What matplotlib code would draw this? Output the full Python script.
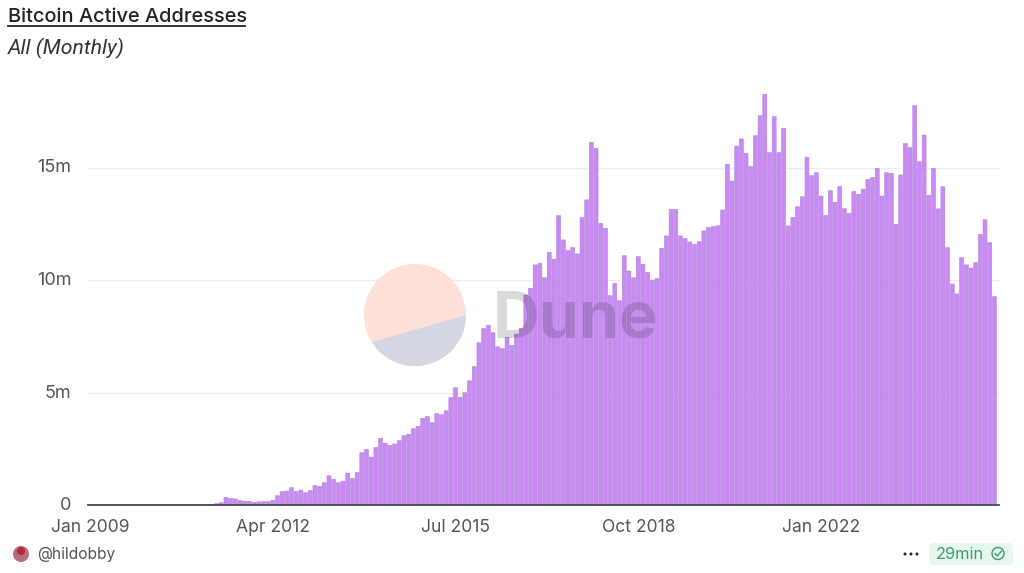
import matplotlib
matplotlib.use("Agg")
import matplotlib.pyplot as plt
from matplotlib.patches import Circle, Polygon, FancyBboxPatch
from matplotlib.lines import Line2D
from matplotlib.transforms import ScaledTranslation

plt.rcParams['font.family'] = ['Inter', 'Roboto', 'DejaVu Sans']

# Monthly active addresses in millions, starting Jan 2009
early = [0.005] * 24 + [0.01, 0.02, 0.03, 0.06]
y2011_on = [
    0.10, 0.34, 0.30, 0.27, 0.20, 0.17, 0.16, 0.12, 0.14, 0.15, 0.15, 0.20,
    0.41, 0.59, 0.62, 0.77, 0.60, 0.66, 0.55, 0.64, 0.86, 0.83, 0.99, 1.30,
    1.14, 0.99, 1.06, 1.42, 1.18, 1.44, 2.32, 2.47, 2.13, 2.55, 2.96, 2.75,
    2.65, 2.71, 2.86, 3.08, 3.14, 3.39, 3.50, 3.85, 3.93, 3.66, 4.06, 4.01,
    4.19, 4.77, 5.21, 4.79, 4.99, 5.52, 6.15, 7.21, 7.84, 7.99, 7.66, 7.03,
]
y2016_on = [
    6.95, 7.45, 7.10, 7.60, 7.85, 9.33, 9.63, 10.67, 10.74, 10.10, 11.23, 10.92,
    12.86, 11.78, 11.30, 11.44, 11.16, 12.77, 13.56, 16.12, 15.85, 12.52, 12.30, 9.30,
    9.85, 9.08, 11.08, 10.40, 10.10, 11.04, 10.70, 10.34, 10.00, 10.06, 11.41, 11.96,
    13.14, 13.14, 11.96, 11.84, 11.69, 11.58, 11.70, 12.18, 12.34, 12.37, 12.41, 13.11,
    15.14, 14.40, 15.95, 16.27, 15.63, 15.04, 16.41, 17.30, 18.25, 15.66, 17.26, 15.66,
    16.74, 12.40, 12.78, 13.26, 13.70, 15.45, 14.64, 14.77, 13.73, 12.87, 13.97, 13.45,
    14.15, 13.17, 12.96, 13.93, 13.81, 14.04, 14.47, 14.56, 14.96, 13.73, 14.77, 14.74,
    12.47, 14.67, 16.07, 15.88, 17.75, 15.26, 16.44, 13.76, 14.96, 13.16, 14.15, 11.44,
    9.82, 9.38, 10.99, 10.67, 10.53, 10.77, 12.03, 12.68, 11.66, 9.26,
]
values = early + y2011_on + y2016_on
positions = list(range(len(values)))

x_ticks = [0, 39, 78, 117, 156]
x_labels = ["Jan 2009", "Apr 2012", "Jul 2015", "Oct 2018", "Jan 2022"]
y_ticks = [0, 5, 10, 15]
y_labels = ["0", "5m", "10m", "15m"]

W, H = 1024, 573
fig = plt.figure(figsize=(W / 100, H / 100), dpi=100, facecolor="white")

# plot axes: pixel box 88..999 horizontally, 85..505 vertically
ax = fig.add_axes([88 / W, 1 - 505 / H, 911 / W, 420 / H])
ax.set_xlim(-0.43, 193.98)
ax.set_ylim(0, 420 / 22.5)
ax.set_facecolor("none")
bars = ax.bar(positions, values, width=0.84, color="#C98BF1", edgecolor="#B27EE3",
              linewidth=0.4, zorder=3)
for bar in bars:
    bar.set_snap(False)
ax.set_yticks(y_ticks, y_labels, fontsize=13, color="#555555")
ax.set_xticks(x_ticks, x_labels, fontsize=12.6, color="#555555")
ax.tick_params(axis="both", length=0)
ax.tick_params(axis="y", pad=12)
ax.tick_params(axis="x", pad=10)
lift = ScaledTranslation(0, 1.5 / 100, fig.dpi_scale_trans)
for lab in ax.get_yticklabels():
    lab.set_transform(lab.get_transform() + lift)
ax.grid(axis="y", color="#EDEDED", linewidth=1, zorder=0)
ax.set_axisbelow(True)
for side in ["top", "right", "left"]:
    ax.spines[side].set_visible(False)
ax.spines["bottom"].set_color("#4A4A4A")
ax.spines["bottom"].set_linewidth(1.3)
ax.spines["bottom"].set_zorder(4)

# overlay in pixel coordinates for watermark, header and footer
ov = fig.add_axes([0, 0, 1, 1], facecolor="none")
ov.set_xlim(0, W)
ov.set_ylim(H, 0)
ov.axis("off")
ov.set_aspect("equal")

# Dune watermark: peach disc with a lower grey-blue segment
disc = Circle((415, 315), 51, facecolor="#FFE0D8", edgecolor="none", zorder=1)
ov.add_patch(disc)
segment = Polygon([(372, 342), (466, 315), (480, 380), (360, 380)], closed=True,
                  facecolor="#D5D6E3", edgecolor="none", zorder=1)
ov.add_patch(segment)
segment.set_clip_path(disc)
ov.text(575.5, 338, "Dune", fontsize=46.5, fontweight="bold", color="#000000",
        alpha=0.15, ha="center", va="baseline", zorder=2)

# header
ov.text(8, 22, "Bitcoin Active Addresses", fontsize=14.4, fontweight="medium",
        color="#222222", ha="left", va="baseline")
ov.add_line(Line2D([8, 245], [25.5, 25.5], color="#222222", linewidth=1.3))
ov.text(8, 54, "All (Monthly)", fontsize=15.3, fontstyle="italic",
        family=["Roboto", "Open Sans", "DejaVu Sans"], color="#333333",
        ha="left", va="baseline")

# footer
ov.add_patch(Circle((21, 554), 8, facecolor="#B86A7E", edgecolor="none"))
ov.add_patch(Circle((21, 551), 4, facecolor="#B02A35", edgecolor="none"))
ov.text(37, 559, "@hildobby", fontsize=11.2, color="#555555", ha="left", va="baseline")
for dot_x in (905, 911, 917):
    ov.add_patch(Circle((dot_x, 554), 1.5, facecolor="#222222", edgecolor="none"))
ov.add_patch(FancyBboxPatch((929, 543), 84, 22, boxstyle="round,pad=0,rounding_size=4",
                            facecolor="#E6F8EE", edgecolor="none"))
ov.text(936, 559, "29min", fontsize=11.8, color="#3E9A78", ha="left", va="baseline")
ov.add_patch(Circle((998, 553.5), 6, facecolor="none", edgecolor="#3E9A78", linewidth=1))
ov.add_line(Line2D([995, 997.5, 1001.5], [553.5, 556, 551], color="#3E9A78", linewidth=1))

fig.savefig("out.png", dpi=100)
